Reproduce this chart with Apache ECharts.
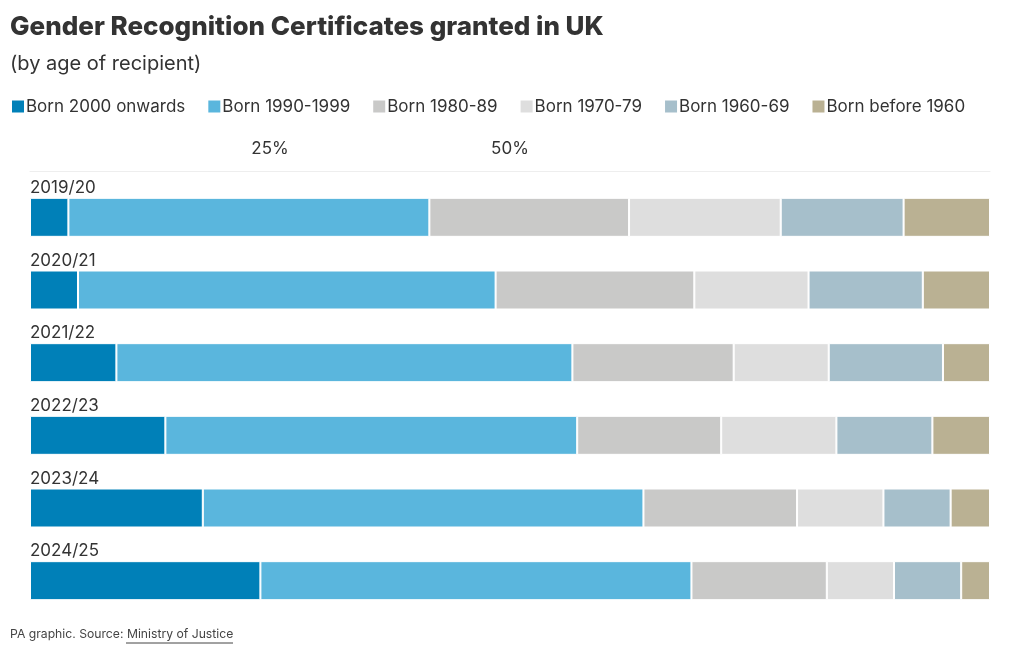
<!DOCTYPE html>
<html>
<head>
<meta charset="utf-8">
<script src="https://cdn.jsdelivr.net/npm/echarts@6/dist/echarts.min.js"></script>
<style>
html,body{margin:0;padding:0;background:#fff;}
#chart{width:1020px;height:650px;}
</style>
</head>
<body>
<div id="chart"></div>
<script>
const categories = ['2019/20', '2020/21', '2021/22', '2022/23', '2023/24', '2024/25'];
const seriesNames = ['Born 2000 onwards', 'Born 1990-1999', 'Born 1980-89', 'Born 1970-79', 'Born 1960-69', 'Born before 1960'];
const born2000 = [4.0, 5.0, 9.0, 14.1, 18.0, 24.0];
const born1990 = [37.6, 43.5, 47.5, 42.9, 45.9, 44.9];
const born1980 = [20.8, 20.7, 16.8, 15.0, 16.0, 14.1];
const born1970 = [15.8, 11.9, 9.9, 12.0, 9.0, 7.0];
const born1960 = [12.8, 11.9, 11.9, 10.0, 7.0, 7.0];
const bornBefore1960 = [9.0, 7.0, 4.9, 6.0, 4.1, 3.0];
const tickLabels = [25, 50];
const colors = ['#0080b8', '#5ab6dd', '#c9c9c8', '#dedede', '#a6bfcb', '#bab193'];

const seriesData = [born2000, born1990, born1980, born1970, born1960, bornBefore1960];
const font = 'Inter, "Noto Sans", sans-serif';

const chart = echarts.init(document.getElementById('chart'));
chart.setOption({
  backgroundColor: '#fff',
  animation: false,
  color: colors,
  textStyle: { fontFamily: font },
  title: [{
    text: 'Gender Recognition Certificates granted in UK',
    left: 10, top: 14, padding: 0,
    textStyle: { fontFamily: font, fontWeight: 800, fontSize: 26, color: '#333' }
  }, {
    text: '(by age of recipient)',
    left: 10, top: 54, padding: 0,
    textStyle: { fontFamily: font, fontWeight: 400, fontSize: 20, color: '#333' }
  }],
  legend: {
    left: 10, top: 98, padding: 0,
    itemWidth: 14, itemHeight: 14, itemGap: 21,
    icon: 'rect',
    textStyle: { fontFamily: font, fontSize: 17, color: '#333', padding: [0, 0, 0, -4] },
    data: seriesNames
  },
  grid: { left: 30, right: 30, top: 181, height: 436, containLabel: false },
  xAxis: {
    type: 'value', position: 'top', offset: 10, min: 0, max: 100, interval: 25,
    axisLine: { show: true, lineStyle: { color: '#eeeeee', width: 1 } },
    axisTick: { show: false },
    splitLine: { show: false },
    axisLabel: {
      margin: 14, fontSize: 17, color: '#333', fontFamily: font,
      formatter: v => tickLabels.includes(v) ? v + '%' : ''
    }
  },
  yAxis: {
    type: 'category', data: categories, inverse: true,
    axisLine: { show: false }, axisTick: { show: false },
    axisLabel: {
      inside: true, align: 'left', verticalAlign: 'bottom',
      margin: 0, padding: [0, 0, 21, 0],
      fontSize: 17, color: '#333', fontFamily: font
    }
  },
  series: seriesData.map((d, i) => ({
    name: seriesNames[i], type: 'bar', stack: 'total', data: d,
    barWidth: 39,
    itemStyle: { color: colors[i], borderColor: '#fff', borderWidth: 1 }
  })),
  graphic: [{
    type: 'text', left: 10, top: 628,
    style: {
      text: '{a|PA graphic. Source: }{b|Ministry of Justice}',
      rich: {
        a: { fontFamily: font, fontSize: 12.2, fill: '#444' },
        b: { fontFamily: font, fontSize: 12.2, fill: '#444' }
      }
    }
  }, {
    type: 'line', shape: { x1: 126, y1: 643, x2: 233, y2: 643 },
    style: { stroke: '#444', lineWidth: 1 }
  }]
});
</script>
</body>
</html>
